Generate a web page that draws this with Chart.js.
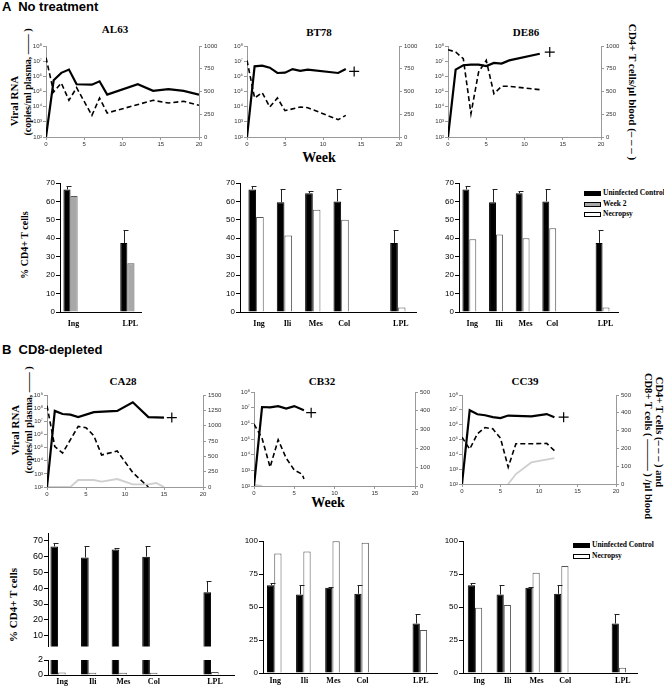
<!DOCTYPE html>
<html>
<head>
<meta charset="utf-8">
<title>Viral RNA and CD4+ T cells</title>
<script src="https://cdn.jsdelivr.net/npm/chart.js@4.4.1/dist/chart.umd.min.js"></script>
<style>
  html, body { margin: 0; background: #fff; }
  #fig { position: relative; width: 664px; height: 689px; overflow: hidden; font-family: "Liberation Serif", serif; color: #000; }
  #fig canvas { position: absolute; }
  .t { position: absolute; white-space: nowrap; font-weight: bold; transform: translate(-50%, -50%); line-height: 1; }
  .up { transform: translate(-50%, -50%) rotate(-90deg); }
  .down { transform: translate(-50%, -50%) rotate(90deg); }
  .panel { position: absolute; font-family: "Liberation Sans", sans-serif; font-weight: bold; font-size: 13px; white-space: pre; line-height: 1; }
  .key { position: absolute; font-size: 7.5px; font-weight: bold; line-height: 1; white-space: nowrap; }
  .key span { display: inline-block; width: 15px; height: 3px; border: 1px solid #000; margin-right: 2px; vertical-align: middle; }
</style>
</head>
<body>
<div id="fig">
  <div class="panel" style="left:2px;top:0px">A  No treatment</div>
  <div class="panel" style="left:2px;top:343px">B  CD8-depleted</div>

  <div class="t" style="left:115px;top:29px;font-size:11px">AL63</div>
  <div class="t" style="left:319px;top:32px;font-size:11px">BT78</div>
  <div class="t" style="left:526px;top:32px;font-size:11px">DE86</div>
  <div class="t" style="left:319px;top:158px;font-size:14px">Week</div>
  <div class="t up" style="left:14px;top:101px;font-size:11px">Viral RNA</div>
  <div class="t up" style="left:28px;top:82px;font-size:10px">(copies/ml plasma, —— )</div>
  <div class="t down" style="left:632px;top:92px;font-size:11px">CD4+ T cells/µl blood (– – – )</div>
  <div class="t up" style="left:25px;top:245px;font-size:10px">% CD4+ T cells</div>
  <div class="key" style="left:584px;top:189px"><span style="background:#000"></span>Uninfected Control</div>
  <div class="key" style="left:584px;top:200px"><span style="background:#a8a8a8"></span>Week 2</div>
  <div class="key" style="left:584px;top:210px"><span style="background:#fff"></span>Necropsy</div>

  <div class="t" style="left:123px;top:381px;font-size:11px">CA28</div>
  <div class="t" style="left:322px;top:381px;font-size:11px">CB32</div>
  <div class="t" style="left:525px;top:381px;font-size:11px">CC39</div>
  <div class="t" style="left:328px;top:503px;font-size:14px">Week</div>
  <div class="t up" style="left:15px;top:430px;font-size:11px">Viral RNA</div>
  <div class="t up" style="left:29px;top:420px;font-size:10px">(copies/ml plasma, —— )</div>
  <div class="t down" style="left:659px;top:432px;font-size:10.5px">CD4+ T cells (– – – ) and</div>
  <div class="t down" style="left:648px;top:446px;font-size:10.5px">CD8+ T cells ( ——— ) /µl blood</div>
  <div class="t up" style="left:13px;top:605px;font-size:11px">% CD4+ T cells</div>
  <div class="key" style="left:573px;top:541px"><span style="background:#000"></span>Uninfected Control</div>
  <div class="key" style="left:573px;top:552px"><span style="background:#fff"></span>Necropsy</div>
</div>

<script>
// ---- A: no treatment (viral RNA copies/ml, CD4+ cells/ul) by week
const al63RnaWeeks = [0, 1, 2, 3, 4, 6, 7, 8, 12, 14, 16, 18, 20];
const al63Rna = [1e2, 5.5e5, 1.7e6, 2.8e6, 3e5, 2.8e5, 4.7e5, 6.2e4, 3e5, 1.1e5, 1.45e5, 1.1e5, 6.2e4];
const al63Cd4Weeks = [0, 1, 2, 3, 4, 6, 7, 8, 14, 16, 18, 20];
const al63Cd4 = [872, 495, 593, 403, 542, 238, 428, 264, 403, 374, 392, 348];

const bt78RnaWeeks = [0, 1, 2, 3, 4, 5, 6, 7, 8, 12, 13];
const bt78Rna = [1e2, 4.6e6, 5e6, 3.7e6, 1.66e6, 1.74e6, 3e6, 2.3e6, 2.75e6, 1.66e6, 3e6];
const bt78Cd4Weeks = [0, 1, 2, 3, 4, 5, 7, 8, 12, 13];
const bt78Cd4 = [842, 429, 487, 330, 429, 289, 330, 322, 190, 238];
const bt78Death = {x: 14.1, y: 2.1e6};

const de86RnaWeeks = [0, 1, 2, 3, 4, 5, 6, 7, 8, 12];
const de86Rna = [1e2, 2.75e6, 5.4e6, 5.9e6, 5.9e6, 4.8e6, 7.6e6, 6.9e6, 1.12e7, 3.1e7];
const de86Cd4Weeks = [0, 1, 2, 3, 4, 5, 6, 7, 8, 12];
const de86Cd4 = [960, 934, 861, 256, 714, 842, 476, 557, 557, 520];
const de86Death = {x: 13.3, y: 4e7};

// ---- B: CD8-depleted
const ca28RnaWeeks = [0, 1, 2, 3, 4, 6, 9, 11, 13, 15];
const ca28Rna = [1e2, 6.2e7, 3.6e7, 3.2e7, 2.1e7, 4.9e7, 6.2e7, 2.8e8, 2.1e7, 1.9e7];
const ca28Cd4Weeks = [0, 1, 2, 4, 5, 6, 7, 9, 11, 13];
const ca28Cd4 = [1326, 658, 554, 989, 967, 837, 522, 587, 234, 0];
const ca28Cd8Weeks = [0, 3, 4, 6, 7, 9, 11, 13, 14, 15];
const ca28Cd8 = [0, 0, 114, 114, 87, 130, 43, 43, 65, 0];
const ca28Death = {x: 16, y: 1.9e7};

const cb32RnaWeeks = [0, 1, 2, 3, 4, 5, 6.2];
const cb32Rna = [1e2, 1.1e7, 1.05e7, 1.26e7, 8.7e6, 1.26e7, 6.8e6];
const cb32Cd4Weeks = [0, 1, 2, 3, 4, 5, 6, 6.2];
const cb32Cd4 = [329, 254, 100, 246, 148, 85, 62, 37];
const cb32Cd8Weeks = [0, 1];
const cb32Cd8 = [6, 0];
const cb32Death = {x: 7.1, y: 4.8e6};

const cc39RnaWeeks = [0, 1, 2, 3, 4, 5, 6, 9, 11, 12];
const cc39Rna = [1e2, 9.3e6, 5e6, 4.3e6, 3.2e6, 2.8e6, 4.1e6, 3.6e6, 5.2e6, 3.2e6];
const cc39Cd4Weeks = [0, 1, 2, 3, 4, 5, 6, 7, 9, 11, 12];
const cc39Cd4 = [263, 196, 282, 317, 310, 257, 95, 226, 226, 228, 187];
const cc39Cd8Weeks = [6, 7, 9, 12];
const cc39Cd8 = [0, 56, 121, 146];
const cc39Death = {x: 13.2, y: 3.2e6};

// ---- % CD4+ T cells per tissue ('' = empty slot before LPL)
const tissues2 = ['Ing', '', 'LPL'];
const tissues = ['Ing', 'Ili', 'Mes', 'Col', '', 'LPL'];
const controlPct2 = [66.5, null, 37.5];
const controlErr2 = [68.5, null, 44.5];
const al63Week2 = [63, null, 26.5];
const controlPct = [66.5, 59.5, 64.5, 60, null, 37.5];
const controlErr = [68.5, 66.5, 65.5, 66.5, null, 44.5];
const bt78Necropsy = [51.5, 41.5, 55.5, 50, null, 2.5];
const de86Necropsy = [39.5, 42, 40, 45.5, null, 2.5];
const ca28Necropsy = [0.35, 0.3, 0.3, 0.3, null, 0.4];
const cb32Necropsy = [90.5, 92, 99.8, 98.7, null, 32.5];
const cc39Necropsy = [49.5, 51.5, 76, 81, null, 4];

const PAD = {left: 2, right: 2, top: 8, bottom: 2};
const SUP = '⁰¹²³⁴⁵⁶⁷⁸⁹';
const pow10 = v => '10' + String(Math.round(Math.log10(v))).split('').map(c => SUP[c]).join('');
const xy = (xs, ys) => xs.map((x, i) => ({x: x, y: ys[i]}));
const fixW = w => s => { s.width = w; };
const fixH = h => s => { s.height = h; };

// canvas placed so that the plot area lands on x0..x1, y0..y1
function box(x0, y0, x1, y1, wl, wr, hb) {
  const c = document.createElement('canvas');
  const w = Math.round(x1 - x0 + wl + wr + PAD.left + PAD.right);
  const h = Math.round(y1 - y0 + hb + PAD.top + PAD.bottom);
  c.width = w; c.height = h;
  c.style.width = w + 'px'; c.style.height = h + 'px';
  c.style.left = Math.round(x0 - wl - PAD.left) + 'px';
  c.style.top = Math.round(y0 - PAD.top) + 'px';
  document.getElementById('fig').appendChild(c);
  return c;
}

function lineChart(x0, y0, x1, y1, d) {
  const c = box(x0, y0, x1, y1, 26, 30, 12);
  const font = {family: 'Liberation Sans', size: 6};
  const grid = {drawOnChartArea: false, tickLength: 3, color: '#999'};
  const border = {color: '#999'};
  const ds = [
    {data: xy(d.rnaWeeks, d.rna), yAxisID: 'y', borderColor: '#000', borderWidth: 2.2},
    {data: xy(d.cd4Weeks, d.cd4), yAxisID: 'y1', borderColor: '#000', borderWidth: 1.6, borderDash: [5, 3]}
  ];
  if (d.cd8) ds.push({data: xy(d.cd8Weeks, d.cd8), yAxisID: 'y1', borderColor: '#cfcfcf', borderWidth: 1.8});
  if (d.death) ds.push({data: [d.death], yAxisID: 'y', showLine: false, pointStyle: 'cross', pointRadius: 5, borderColor: '#000', borderWidth: 1.2});
  return new Chart(c, {
    type: 'line',
    data: {datasets: ds},
    options: {
      responsive: false, animation: false, devicePixelRatio: 1,
      layout: {padding: PAD},
      elements: {point: {radius: 0}, line: {tension: 0}},
      plugins: {legend: {display: false}, tooltip: {enabled: false}},
      scales: {
        x: {type: 'linear', min: 0, max: 20, ticks: {stepSize: 5, font: font, color: '#333', padding: 1, maxRotation: 0},
            grid: grid, border: border, afterFit: fixH(12)},
        y: {type: 'logarithmic', position: 'left', min: 1e2, max: d.logMax,
            afterBuildTicks: s => { s.ticks = []; for (let p = 2; Math.pow(10, p) <= d.logMax; p++) s.ticks.push({value: Math.pow(10, p)}); },
            ticks: {font: font, color: '#333', padding: 1, callback: v => pow10(v)},
            grid: grid, border: border, afterFit: fixW(26)},
        y1: {type: 'linear', position: 'right', min: 0, max: d.cd4Max,
             ticks: {stepSize: d.cd4Step, font: font, color: '#333', padding: 2, callback: v => String(v)},
             grid: grid, border: border, afterFit: fixW(30)}
      }
    }
  });
}

function errorBars(err) {
  return {
    id: 'errorBars',
    afterDatasetsDraw(chart) {
      if (!err) return;
      const ctx = chart.ctx, a = chart.chartArea, y = chart.scales.y;
      ctx.save();
      ctx.beginPath(); ctx.rect(a.left, a.top - 2, a.right - a.left, a.bottom - a.top + 2); ctx.clip();
      ctx.strokeStyle = '#222'; ctx.lineWidth = 1;
      chart.getDatasetMeta(0).data.forEach((bar, i) => {
        if (err[i] == null) return;
        const top = Math.round(y.getPixelForValue(err[i])) + 0.5;
        const x = Math.round(bar.x) + 0.5;
        ctx.beginPath();
        ctx.moveTo(x, bar.y); ctx.lineTo(x, top);
        ctx.moveTo(x - 1, top); ctx.lineTo(x + 4, top);
        ctx.stroke();
      });
      ctx.restore();
    }
  };
}

function barChart(x0, y0, x1, y1, d) {
  const showX = d.showX !== false;
  const hb = showX ? 16 : 0;
  const c = box(x0, y0, x1, y1, 20, 4, hb);
  const pts = vals => d.cats.map((name, i) => ({x: i, y: vals[i]}));
  return new Chart(c, {
    type: 'bar',
    data: {datasets: [
      {label: 'Uninfected Control', data: pts(d.control), backgroundColor: '#000', borderColor: '#000', borderWidth: 1,
       categoryPercentage: d.width, barPercentage: 1, clip: 0},
      {label: d.otherLabel, data: pts(d.other), backgroundColor: d.otherColor, borderColor: '#555', borderWidth: 1,
       categoryPercentage: d.width, barPercentage: 1, clip: 0}
    ]},
    options: {
      responsive: false, animation: false, devicePixelRatio: 1,
      layout: {padding: PAD},
      plugins: {legend: {display: false}, tooltip: {enabled: false}},
      scales: {
        x: {type: 'linear', offset: false, min: d.xmin, max: d.xmax, display: showX,
            afterBuildTicks: s => { s.ticks = d.cats.map((n, i) => ({value: i})).filter(t => d.cats[t.value]); },
            ticks: {callback: v => d.cats[v], autoSkip: false, maxRotation: 0, padding: d.labelPad,
                    labelOffset: d.labelShift, color: '#000',
                    font: {family: 'Liberation Serif', size: 8, weight: 'bold'}},
            grid: {display: true, offset: false, drawOnChartArea: false, drawTicks: false, color: '#000'},
            border: {color: '#000'}, afterFit: fixH(hb)},
        y: {min: d.ymin, max: d.ymax,
            afterBuildTicks: s => { s.ticks = d.yTicks.map(v => ({value: v})); },
            ticks: {font: {family: 'Liberation Sans', size: d.tickSize || 8}, color: '#000', padding: 1},
            grid: {drawOnChartArea: false, tickLength: 4, color: '#000'},
            border: {color: '#000'}, afterFit: fixW(20)}
      }
    },
    plugins: [errorBars(d.err)]
  });
}

// ---- line charts
lineChart(46, 46, 199, 137, {rnaWeeks: al63RnaWeeks, rna: al63Rna, cd4Weeks: al63Cd4Weeks, cd4: al63Cd4, logMax: 1e8, cd4Max: 1000, cd4Step: 250});
lineChart(247, 46, 399, 137, {rnaWeeks: bt78RnaWeeks, rna: bt78Rna, cd4Weeks: bt78Cd4Weeks, cd4: bt78Cd4, death: bt78Death, logMax: 1e8, cd4Max: 1000, cd4Step: 250});
lineChart(448, 46, 601, 137, {rnaWeeks: de86RnaWeeks, rna: de86Rna, cd4Weeks: de86Cd4Weeks, cd4: de86Cd4, death: de86Death, logMax: 1e8, cd4Max: 1000, cd4Step: 250});

lineChart(47, 395, 203, 487, {rnaWeeks: ca28RnaWeeks, rna: ca28Rna, cd4Weeks: ca28Cd4Weeks, cd4: ca28Cd4, cd8Weeks: ca28Cd8Weeks, cd8: ca28Cd8, death: ca28Death, logMax: 1e9, cd4Max: 1500, cd4Step: 250});
lineChart(254, 392, 415, 486, {rnaWeeks: cb32RnaWeeks, rna: cb32Rna, cd4Weeks: cb32Cd4Weeks, cd4: cb32Cd4, cd8Weeks: cb32Cd8Weeks, cd8: cb32Cd8, death: cb32Death, logMax: 1e8, cd4Max: 500, cd4Step: 100});
lineChart(462, 395, 616, 484, {rnaWeeks: cc39RnaWeeks, rna: cc39Rna, cd4Weeks: cc39Cd4Weeks, cd4: cc39Cd4, cd8Weeks: cc39Cd8Weeks, cd8: cc39Cd8, death: cc39Death, logMax: 1e8, cd4Max: 500, cd4Step: 100});

// ---- bar charts, no treatment
const pct70 = [0, 10, 20, 30, 40, 50, 60, 70];
barChart(60, 183, 137, 312, {cats: tissues2, control: controlPct2, err: controlErr2, other: al63Week2, otherLabel: 'Week 2', otherColor: '#a8a8a8',
  xmin: -0.37, xmax: 2.48, width: 0.5, ymin: 0, ymax: 70, yTicks: pct70, labelPad: 7, labelShift: 3});
barChart(240, 183, 412, 312, {cats: tissues, control: controlPct, err: controlErr, other: bt78Necropsy, otherLabel: 'Necropsy', otherColor: '#fff',
  xmin: -0.567, xmax: 5.64, width: 0.54, ymin: 0, ymax: 70, yTicks: pct70, labelPad: 7, labelShift: 3});
barChart(459, 183, 614, 312, {cats: tissues, control: controlPct, err: controlErr, other: de86Necropsy, otherLabel: 'Necropsy', otherColor: '#fff',
  xmin: -0.388, xmax: 5.58, width: 0.52, ymin: 0, ymax: 70, yTicks: pct70, labelPad: 7, labelShift: 3});

// ---- bar charts, CD8-depleted (CA28 has a broken axis)
barChart(48, 533, 230, 651, {cats: tissues, control: controlPct, err: controlErr, other: ca28Necropsy, otherLabel: 'Necropsy', otherColor: '#fff',
  xmin: -0.33, xmax: 5.75, width: 0.5, ymin: 3, ymax: 75, yTicks: [10, 20, 30, 40, 50, 60, 70], showX: false, tickSize: 9});
barChart(48, 660, 230, 675, {cats: tissues, control: controlPct, other: ca28Necropsy, otherLabel: 'Necropsy', otherColor: '#fff',
  xmin: -0.33, xmax: 5.75, width: 0.5, ymin: 0, ymax: 2, yTicks: [0, 2], labelPad: 2, labelShift: 4, tickSize: 9});
const pct100 = [0, 25, 50, 75, 100];
barChart(263, 541, 433, 673, {cats: tissues, control: controlPct, err: controlErr, other: cb32Necropsy, otherLabel: 'Necropsy', otherColor: '#fff',
  xmin: -0.386, xmax: 5.59, width: 0.5, ymin: 0, ymax: 100, yTicks: pct100, labelPad: 3, labelShift: 1});
barChart(463, 541, 633, 673, {cats: tissues, control: controlPct, err: controlErr, other: cc39Necropsy, otherLabel: 'Necropsy', otherColor: '#fff',
  xmin: -0.416, xmax: 5.63, width: 0.5, ymin: 0, ymax: 100, yTicks: pct100, labelPad: 3, labelShift: 4});
</script>
</body>
</html>
